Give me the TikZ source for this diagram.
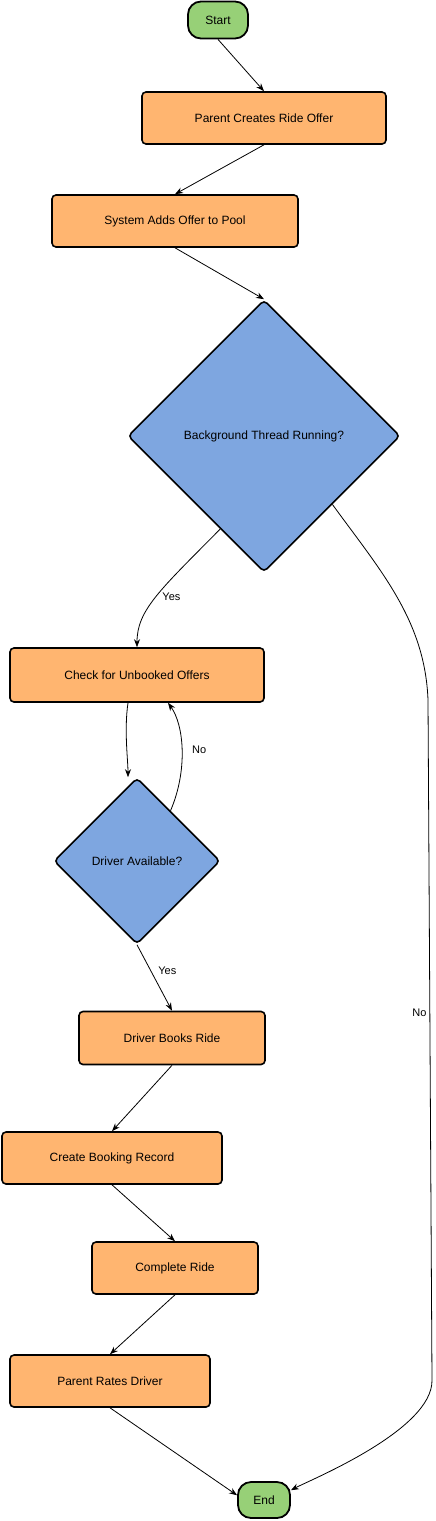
\documentclass[tikz,border=0pt]{standalone}
\usepackage{fontspec}
\setmainfont{Liberation Sans}
\usetikzlibrary{shapes.geometric,arrows.meta,calc}
\definecolor{boxorange}{HTML}{FFB570}
\definecolor{dblue}{HTML}{7EA6E0}
\definecolor{tgreen}{HTML}{97D077}
\begin{document}
\begin{tikzpicture}[x=1pt,y=-1pt,
  every node/.style={font=\fontsize{12}{14}\selectfont, inner sep=0pt},
  procbox/.style={draw=black, line width=1.6pt, fill=boxorange, rounded corners=4pt, rectangle},
  termbox/.style={draw=black, line width=1.8pt, fill=tgreen, rounded corners=13pt, rectangle},
  decbox/.style={draw=black, line width=1.6pt, fill=dblue, diamond, aspect=1, rounded corners=4pt},
  flow/.style={draw=black, line width=0.8pt, -{Stealth[length=8pt,width=6pt]}},
  lbl/.style={font=\fontsize{11}{13}\selectfont, fill=white, inner sep=1pt}
]
\useasboundingbox (0,0) rectangle (436,1521);

\node[termbox, minimum width=60pt, minimum height=37pt] (start) at (218,20) {Start};
\node[procbox, minimum width=244pt, minimum height=52pt] (parent) at (264,118) {Parent Creates Ride Offer};
\node[procbox, minimum width=246pt, minimum height=52pt] (pool) at (175,221) {System Adds Offer to Pool};
\node[decbox, minimum width=272pt, minimum height=272pt] (bg) at (264,436) {Background Thread Running?};
\node[procbox, minimum width=254pt, minimum height=54pt] (check) at (137,675) {Check for Unbooked Offers};
\node[decbox, minimum width=166pt, minimum height=166pt] (da) at (137,861) {Driver Available?};
\node[procbox, minimum width=186pt, minimum height=53pt] (books) at (172,1038) {Driver Books Ride};
\node[procbox, minimum width=220pt, minimum height=52pt] (record) at (112,1158) {Create Booking Record};
\node[procbox, minimum width=166pt, minimum height=52pt] (complete) at (175,1268) {Complete Ride};
\node[procbox, minimum width=200pt, minimum height=52pt] (rates) at (110,1381) {Parent Rates Driver};
\node[termbox, minimum width=52pt, minimum height=36pt] (end) at (264,1500) {End};

\draw[flow] (start.south) -- (parent.north);
\draw[flow] (parent.south) -- (pool.north);
\draw[flow] (pool.south) -- (bg.north);
\draw[flow] ($(bg.west)!0.68!(bg.south)$) .. controls (160,590) and (137,610) .. (check.north)
  node[lbl, pos=0.5, right=5pt] {Yes};
\draw[flow] ([xshift=-9pt]check.south) .. controls (124,730) and (128,760) .. ([xshift=-9pt]da.north);
\draw[flow] ($(da.north)!0.4!(da.east)$) .. controls (188,770) and (184,725) .. ([xshift=31pt]check.south)
  node[lbl, pos=0.5, right=9pt] {No};
\draw[flow] (da.south) -- (books.north)
  node[lbl, pos=0.4, right=6pt] {Yes};
\draw[flow] (books.south) -- (record.north);
\draw[flow] (record.south) -- (complete.north);
\draw[flow] (complete.south) -- (rates.north);
\draw[flow] (rates.south) -- (end.170);
\draw[flow] ($(bg.east)!0.5!(bg.south)$) .. controls (380,570) and (425,620) .. (428,700)
  -- (432,1380) node[lbl, pos=0.46, left=2pt] {No}
  .. controls (433,1430) and (310,1480) .. (end.20);
\end{tikzpicture}
\end{document}
